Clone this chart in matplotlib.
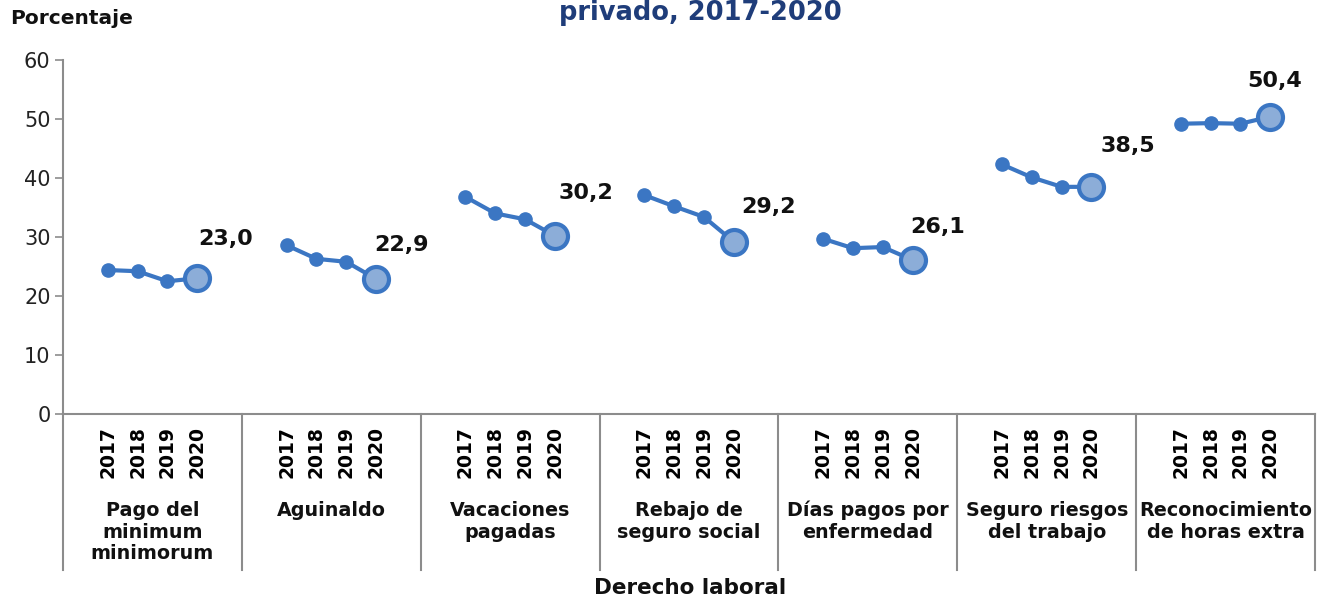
import matplotlib
matplotlib.use('Agg')
import matplotlib.pyplot as plt
import matplotlib.transforms as mtransforms
import numpy as np

categories = ['Pago del\nminimum\nminimorum', 'Aguinaldo', 'Vacaciones\npagadas',
              'Rebajo de\nseguro social', 'Días pagos por\nenfermedad',
              'Seguro riesgos\ndel trabajo', 'Reconocimiento\nde horas extra']
years = ['2017', '2018', '2019', '2020']
values = [
    [24.4, 24.2, 22.5, 23.0],
    [28.6, 26.3, 25.8, 22.9],
    [36.8, 34.0, 33.0, 30.2],
    [37.1, 35.2, 33.4, 29.2],
    [29.7, 28.1, 28.3, 26.1],
    [42.3, 40.1, 38.5, 38.5],
    [49.2, 49.3, 49.2, 50.4],
]
labels_2020 = ['23,0', '22,9', '30,2', '29,2', '26,1', '38,5', '50,4']

# pixel offsets of the 2020 value labels
label_off = [(28, 39), (25, 34), (31, 43), (35, 35), (25, 33), (36, 41), (4, 36)]

line_c = '#3b76c3'
face_c = '#8cadd8'
grey = '#8c8c8c'

W, H = 1323, 600
fig = plt.figure(figsize=(W / 100, H / 100), dpi=100)
ax = fig.add_axes([63 / W, (H - 414) / H, (1315 - 63) / W, (414 - 60) / H])

slots = 6
xt, xl = [], []
for g, vals in enumerate(values):
    xs = [g * slots + j + 1 for j in range(len(vals))]
    ax.plot(xs, vals, color=line_c, lw=3, marker='o', ms=9.5, mfc=line_c,
            mec=line_c, zorder=3)
    ax.plot(xs[-1], vals[-1], marker='o', ms=18, mfc=face_c, mec=line_c,
            mew=3, zorder=4)
    ax.annotate(labels_2020[g], (xs[-1], vals[-1]), xytext=label_off[g],
                textcoords='offset pixels', ha='center', va='center',
                fontsize=16, fontweight='bold', color='#111111')
    xt += xs
    xl += years

ax.set_xlim(-0.5, len(values) * slots - 0.5)
ax.set_ylim(0, 60)
ax.set_yticks(range(0, 61, 10))
ax.tick_params(axis='y', length=6, width=1.2, color=grey, labelsize=15,
               labelcolor='#222222', pad=3)
ax.set_xticks(xt)
ax.set_xticklabels(xl, rotation=90, fontsize=13.5, fontweight='bold')
ax.tick_params(axis='x', length=0, pad=9)
for s in ['top', 'right']:
    ax.spines[s].set_visible(False)
for s in ['left', 'bottom']:
    ax.spines[s].set_color(grey)
    ax.spines[s].set_linewidth(1.5)

trans = mtransforms.blended_transform_factory(ax.transData, ax.transAxes)
sep_bottom = -(570 - 414) / (414 - 60)
for g in range(len(values) + 1):
    xb = g * slots - 0.5
    ax.plot([xb, xb], [0, sep_bottom], transform=trans, color=grey, lw=1.5,
            clip_on=False)
for g, name in enumerate(categories):
    ax.text(g * slots + 2.5, -(501 - 414) / (414 - 60), name, transform=trans,
            ha='center', va='top', fontsize=13.8, fontweight='bold',
            linespacing=1.17, color='#111111')

fig.text(690 / W, 1 - 588 / H, 'Derecho laboral', ha='center', va='center',
         fontsize=15.5, fontweight='bold', color='#111111')
fig.text(10 / W, 1 - 18 / H, 'Porcentaje', ha='left', va='center',
         fontsize=14.5, fontweight='bold', color='#111111')
fig.text(700 / W, 1 - 20 / H, 'privado, 2017-2020', ha='center', va='baseline',
         fontsize=18.5, fontweight='bold', color='#1f3d7a')

fig.savefig('out.png', dpi=100)
